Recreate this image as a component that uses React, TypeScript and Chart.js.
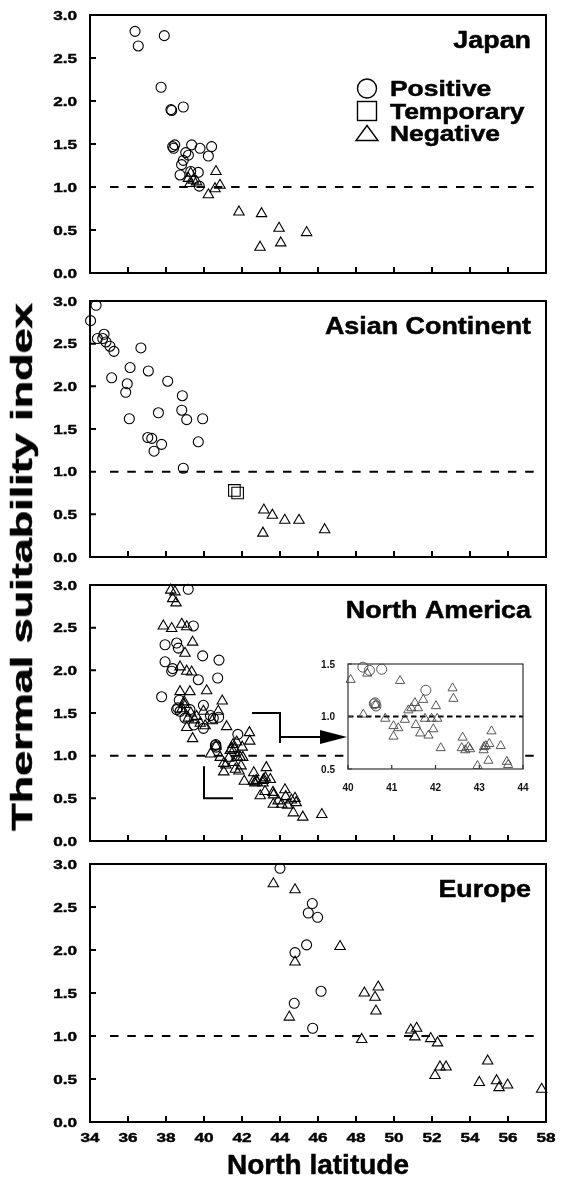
import React, { useEffect, useRef } from 'react';
import { Chart, registerables } from 'chart.js';

Chart.register(...registerables);

const FONT = '"Liberation Sans", Arial, Helvetica, sans-serif';

// ---------- axes ----------
const X_MIN = 34;
const X_MAX = 58;
const Y_MIN = 0;
const Y_MAX = 3;
const X_TICKS = [34, 36, 38, 40, 42, 44, 46, 48, 50, 52, 54, 56, 58];
const X_TICK_LABELS = ['34', '36', '38', '40', '42', '44', '46', '48', '50', '52', '54', '56', '58'];
const Y_TICKS = [0, 0.5, 1, 1.5, 2, 2.5, 3];
const Y_TICK_LABELS = ['0.0', '0.5', '1.0', '1.5', '2.0', '2.5', '3.0'];
const THRESHOLD = 1.0;
const X_TITLE = 'North latitude';
const Y_TITLE = 'Thermal suitability index';
const LEGEND_LABELS = ['Positive', 'Temporary', 'Negative'];
const PANEL_TITLES = ['Japan', 'Asian Continent', 'North America', 'Europe'];

// inset (North America zoom)
const INSET_X_MIN = 40;
const INSET_X_MAX = 44;
const INSET_Y_MIN = 0.5;
const INSET_Y_MAX = 1.5;
const INSET_X_TICKS = [40, 41, 42, 43, 44];
const INSET_X_LABELS = ['40', '41', '42', '43', '44'];
const INSET_Y_TICKS = [0.5, 1.0, 1.5];
const INSET_Y_LABELS = ['0.5', '1.0', '1.5'];

type Pt = [number, number];

// ---------- data: [latitude, index] ----------
const JAPAN_POSITIVE: Pt[] = [
  [36.37, 2.81], [36.54, 2.64], [37.91, 2.76], [37.74, 2.16], [38.26, 1.9], [38.3, 1.89],
  [38.91, 1.93], [38.35, 1.47], [38.46, 1.49], [38.4, 1.45], [39.35, 1.49], [39.79, 1.45],
  [40.4, 1.47], [40.23, 1.36], [39.18, 1.37], [39.04, 1.4], [38.91, 1.31], [38.82, 1.26],
  [38.74, 1.14], [39.3, 1.18], [39.7, 1.17], [39.75, 1.01],
];
const JAPAN_TEMPORARY: Pt[] = [];
const JAPAN_NEGATIVE: Pt[] = [
  [39.3, 1.16], [39.18, 1.1], [39.44, 1.08], [39.26, 1.04], [39.61, 1.06], [40.63, 1.18],
  [40.84, 1.02], [40.58, 0.98], [40.23, 0.91], [41.84, 0.71], [43.03, 0.69], [43.95, 0.52],
  [44.04, 0.35], [42.95, 0.3], [45.4, 0.47],
];

const ASIA_POSITIVE: Pt[] = [
  [34.03, 2.77], [34.32, 2.95], [34.39, 2.56], [34.74, 2.61], [34.67, 2.56], [34.84, 2.52],
  [35.05, 2.47], [35.26, 2.41], [35.14, 2.1], [36.68, 2.45], [36.11, 2.22], [35.96, 2.03],
  [35.88, 1.93], [36.07, 1.62], [37.07, 2.18], [38.09, 2.06], [37.6, 1.69], [37.04, 1.4],
  [37.25, 1.39], [37.37, 1.24], [37.77, 1.32], [38.86, 1.89], [38.83, 1.72], [39.09, 1.61],
  [39.93, 1.62], [39.7, 1.35], [38.91, 1.04],
];
const ASIA_TEMPORARY: Pt[] = [[41.6, 0.78], [41.77, 0.75]];
const ASIA_NEGATIVE: Pt[] = [
  [43.15, 0.55], [43.6, 0.49], [44.25, 0.43], [45.0, 0.43], [43.1, 0.28], [46.35, 0.32],
];

const NAMERICA_POSITIVE: Pt[] = [
  [39.17, 2.95], [39.44, 2.52], [37.95, 2.3], [38.56, 2.32], [38.65, 2.26], [39.93, 2.17],
  [40.79, 2.12], [37.95, 2.1], [38.35, 2.02], [38.3, 1.99], [40.72, 1.91], [39.7, 1.89],
  [37.77, 1.69], [38.7, 1.65], [38.56, 1.54], [38.74, 1.52], [38.62, 1.56], [39.26, 1.54],
  [39.0, 1.44], [39.47, 1.36], [39.97, 1.59], [39.97, 1.32],
  [40.34, 1.47], [40.49, 1.44], [40.77, 1.45], [40.6, 1.12], [40.64, 1.1], [40.62, 1.13],
  [41.78, 1.25],
];
const NAMERICA_TEMPORARY: Pt[] = [];
const NAMERICA_NEGATIVE: Pt[] = [
  [38.25, 2.94], [38.47, 2.92], [38.35, 2.84], [38.53, 2.79], [37.86, 2.52], [38.3, 2.49],
  [38.83, 2.54], [39.09, 2.51], [39.4, 2.33], [39.0, 2.2], [38.74, 2.04], [39.09, 1.99],
  [39.35, 1.98], [39.26, 1.75], [38.74, 1.75], [40.14, 1.76], [40.96, 1.64], [38.96, 1.63],
  [39.09, 1.33], [39.4, 1.2], [39.17, 1.44], [39.61, 1.46], [39.97, 1.52], [40.75, 1.52],
  [38.85, 1.55], [39.5, 1.42], [39.8, 1.38], [39.3, 1.5], [38.95, 1.6],
  [40.06, 1.35], [40.44, 1.41], [41.19, 1.34], [40.35, 1.02], [40.63, 1.11], [40.85, 0.98],
  [41.04, 0.91], [41.15, 0.89], [41.04, 0.81], [41.3, 0.97], [41.38, 1.06], [41.53, 1.13],
  [41.45, 1.08], [41.55, 0.92], [41.65, 0.84], [41.72, 1.16], [41.76, 0.98], [41.84, 0.82],
  [41.91, 0.98], [41.95, 0.88], [42.01, 1.1], [42.04, 0.98], [41.6, 1.08], [42.12, 0.7],
  [42.39, 1.27], [42.41, 1.17], [42.62, 0.8], [42.6, 0.7], [42.75, 0.71], [42.79, 0.69],
  [42.68, 0.68], [43.11, 0.71], [43.1, 0.68], [43.15, 0.72], [43.28, 0.86], [43.23, 0.74],
  [43.49, 0.72], [43.21, 0.58], [42.96, 0.53], [43.63, 0.57], [43.66, 0.54],
  [44.26, 0.6], [44.3, 0.52], [44.79, 0.5], [44.85, 0.45], [43.65, 0.43], [44.09, 0.43],
  [44.4, 0.42], [44.7, 0.33], [45.2, 0.28], [46.2, 0.31], [43.9, 0.47], [44.6, 0.48],
];

const EUROPE_POSITIVE: Pt[] = [
  [44.0, 2.95], [45.7, 2.54], [45.49, 2.43], [45.98, 2.38], [45.4, 2.06], [44.79, 1.97],
  [46.16, 1.52], [44.75, 1.38], [45.72, 1.09],
];
const EUROPE_TEMPORARY: Pt[] = [];
const EUROPE_NEGATIVE: Pt[] = [
  [43.65, 2.77], [44.79, 2.7], [44.79, 1.86], [44.49, 1.22], [47.16, 2.04], [48.44, 1.5],
  [49.17, 1.57], [49.0, 1.45], [49.05, 1.29], [48.3, 0.96], [50.88, 1.07], [51.19, 1.09],
  [51.1, 0.99], [51.93, 0.97], [52.29, 0.92], [52.42, 0.64], [52.74, 0.64], [52.16, 0.54],
  [54.93, 0.71], [54.49, 0.46], [55.4, 0.48], [55.53, 0.4], [55.98, 0.43], [57.77, 0.38],
];

// ---------- layout ----------
const PAGE_W = 561;
const PAGE_H = 1189;
const PAD_LEFT = 90;
const PAD_RIGHT = 15;
const PAD_TOP = 15;

interface PanelSpec {
  title: string;
  pos: Pt[];
  tmp: Pt[];
  neg: Pt[];
  plotTop: number;
  plotBottom: number;
  legend?: boolean;
  xLabels?: boolean;
  zoomMarks?: boolean;
}

const PANELS: PanelSpec[] = [
  { title: PANEL_TITLES[0], pos: JAPAN_POSITIVE, tmp: JAPAN_TEMPORARY, neg: JAPAN_NEGATIVE, plotTop: 15, plotBottom: 273, legend: true },
  { title: PANEL_TITLES[1], pos: ASIA_POSITIVE, tmp: ASIA_TEMPORARY, neg: ASIA_NEGATIVE, plotTop: 301, plotBottom: 557 },
  { title: PANEL_TITLES[2], pos: NAMERICA_POSITIVE, tmp: NAMERICA_TEMPORARY, neg: NAMERICA_NEGATIVE, plotTop: 585, plotBottom: 841, zoomMarks: true },
  { title: PANEL_TITLES[3], pos: EUROPE_POSITIVE, tmp: EUROPE_TEMPORARY, neg: EUROPE_NEGATIVE, plotTop: 864, plotBottom: 1122, xLabels: true },
];

const INSET_BOX = { left: 348, right: 523, top: 664, bottom: 769 };
const INSET_CANVAS = { left: 320, top: 650, width: 215, height: 150 };

function stretchText(
  ctx: CanvasRenderingContext2D,
  text: string,
  x: number,
  y: number,
  size: number,
  sx: number,
  align: CanvasTextAlign,
  color = '#000',
  stroke = 0
) {
  ctx.save();
  ctx.font = `bold ${size}px ${FONT}`;
  ctx.fillStyle = color;
  ctx.textAlign = align;
  ctx.textBaseline = 'alphabetic';
  ctx.translate(x, y);
  ctx.scale(sx, 1);
  ctx.fillText(text, 0, 0);
  if (stroke > 0) {
    ctx.strokeStyle = color;
    ctx.lineWidth = stroke;
    ctx.lineJoin = 'round';
    ctx.strokeText(text, 0, 0);
  }
  ctx.restore();
}

function dataset(pts: Pt[], style: string, radius: number, color = '#000', width = 1) {
  return {
    data: pts.map(([x, y]) => ({ x, y })),
    pointStyle: style,
    pointRadius: radius,
    pointHoverRadius: radius,
    pointBorderColor: color,
    pointBackgroundColor: 'rgba(0,0,0,0)',
    pointBorderWidth: width,
    showLine: false,
    clip: false,
  };
}

function panelPlugin(spec: PanelSpec) {
  return {
    id: 'panelFrame',
    beforeDatasetsDraw(chart: any) {
      const { ctx, chartArea: a } = chart;
      const xs = chart.scales.x;
      const ys = chart.scales.y;
      ctx.save();
      ctx.strokeStyle = '#000';
      ctx.lineWidth = 2;
      const ty = ys.getPixelForValue(THRESHOLD);
      ctx.setLineDash([8.5, 8.8]);
      ctx.beginPath();
      ctx.moveTo(a.left + 20, ty);
      ctx.lineTo(a.right - 6, ty);
      ctx.stroke();
      ctx.setLineDash([]);
      ctx.strokeRect(a.left, a.top, a.right - a.left, a.bottom - a.top);
      ctx.beginPath();
      Y_TICKS.forEach((v) => {
        const p = ys.getPixelForValue(v);
        ctx.moveTo(a.left, p);
        ctx.lineTo(a.left + 6, p);
      });
      X_TICKS.forEach((v) => {
        const p = xs.getPixelForValue(v);
        ctx.moveTo(p, a.bottom);
        ctx.lineTo(p, a.bottom - 6);
      });
      ctx.stroke();
      Y_TICKS.forEach((v, i) =>
        stretchText(ctx, Y_TICK_LABELS[i], a.left - 13, ys.getPixelForValue(v) + 4.6, 13, 1.32, 'right', '#000', 0.4)
      );
      if (spec.xLabels) {
        X_TICKS.forEach((v, i) =>
          stretchText(ctx, X_TICK_LABELS[i], xs.getPixelForValue(v), a.bottom + 19.6, 13, 1.32, 'center', '#000', 0.4)
        );
      }
      ctx.restore();
    },
    afterDatasetsDraw(chart: any) {
      const { ctx, chartArea: a } = chart;
      const xs = chart.scales.x;
      const ys = chart.scales.y;
      ctx.save();
      stretchText(ctx, spec.title, a.right - 15, a.top + 33, 24, 1.12, 'right', '#000', 0.5);
      if (spec.legend) {
        const cx = a.left + 277;
        const rows = [73.5, 96, 118.5];
        ctx.strokeStyle = '#000';
        ctx.lineWidth = 1.4;
        let cy = a.top + rows[0];
        ctx.beginPath();
        ctx.arc(cx, cy, 9.5, 0, Math.PI * 2);
        ctx.stroke();
        cy = a.top + rows[1];
        ctx.strokeRect(cx - 9.5, cy - 9.5, 19, 19);
        cy = a.top + rows[2];
        ctx.beginPath();
        ctx.moveTo(cx, cy - 8);
        ctx.lineTo(cx + 11, cy + 7);
        ctx.lineTo(cx - 11, cy + 7);
        ctx.closePath();
        ctx.stroke();
        LEGEND_LABELS.forEach((t, i) =>
          stretchText(ctx, t, a.left + 300, a.top + rows[i] + 7.9, 22, 1.2, 'left', '#000', 0.5)
        );
      }
      if (spec.zoomMarks) {
        const x40 = xs.getPixelForValue(INSET_X_MIN);
        const x44 = xs.getPixelForValue(INSET_X_MAX);
        const y05 = ys.getPixelForValue(INSET_Y_MIN);
        const y15 = ys.getPixelForValue(INSET_Y_MAX);
        ctx.strokeStyle = '#000';
        ctx.fillStyle = '#000';
        ctx.lineWidth = 2;
        ctx.beginPath();
        ctx.moveTo(x44 - 28, y15);
        ctx.lineTo(x44, y15);
        ctx.lineTo(x44, y15 + 30);
        ctx.moveTo(x40, y05 - 32);
        ctx.lineTo(x40, y05);
        ctx.lineTo(x40 + 29, y05);
        const ay = y15 + 24;
        const tipX = INSET_BOX.left - 1;
        ctx.moveTo(x44, ay);
        ctx.lineTo(tipX - 20, ay);
        ctx.stroke();
        ctx.beginPath();
        ctx.moveTo(tipX, ay);
        ctx.lineTo(tipX - 27, ay - 7);
        ctx.lineTo(tipX - 27, ay + 7);
        ctx.closePath();
        ctx.fill();
      }
      ctx.restore();
    },
  };
}

function Panel({ spec }: { spec: PanelSpec }) {
  const ref = useRef<HTMLCanvasElement>(null);
  const top = spec.plotTop - PAD_TOP;
  const bottomPad = spec.xLabels ? 32 : 15;
  const height = spec.plotBottom - spec.plotTop + PAD_TOP + bottomPad;
  useEffect(() => {
    const chart = new Chart(ref.current as HTMLCanvasElement, {
      type: 'scatter',
      data: {
        datasets: [
          dataset(spec.pos, 'circle', 5, '#000', 1.1),
          dataset(spec.tmp, 'rect', 8.2, '#000', 1.1),
          dataset(spec.neg, 'triangle', 6, '#000', 1.1),
        ] as any,
      },
      options: {
        responsive: false,
        animation: false,
        devicePixelRatio: 1,
        events: [],
        layout: { padding: { left: PAD_LEFT, right: PAD_RIGHT, top: PAD_TOP, bottom: bottomPad } },
        scales: {
          x: { type: 'linear', min: X_MIN, max: X_MAX, display: false },
          y: { type: 'linear', min: Y_MIN, max: Y_MAX, display: false },
        },
        plugins: { legend: { display: false }, tooltip: { enabled: false } },
      } as any,
      plugins: [panelPlugin(spec)],
    });
    return () => chart.destroy();
  }, []);
  return (
    <canvas
      ref={ref}
      width={PAGE_W}
      height={height}
      style={{ position: 'absolute', left: 0, top, width: PAGE_W, height }}
    />
  );
}

const insetPlugin = {
  id: 'insetFrame',
  beforeDatasetsDraw(chart: any) {
    const { ctx, chartArea: a } = chart;
    const xs = chart.scales.x;
    const ys = chart.scales.y;
    ctx.save();
    ctx.fillStyle = '#fff';
    ctx.fillRect(a.left, a.top, a.right - a.left, a.bottom - a.top);
    ctx.strokeStyle = '#000';
    ctx.lineWidth = 2;
    ctx.setLineDash([5.5, 3.5]);
    const ty = ys.getPixelForValue(THRESHOLD);
    ctx.beginPath();
    ctx.moveTo(a.left, ty);
    ctx.lineTo(a.right, ty);
    ctx.stroke();
    ctx.setLineDash([]);
    ctx.strokeStyle = '#333';
    ctx.lineWidth = 1.2;
    ctx.strokeRect(a.left, a.top, a.right - a.left, a.bottom - a.top);
    ctx.beginPath();
    INSET_Y_TICKS.forEach((v) => {
      const p = ys.getPixelForValue(v);
      ctx.moveTo(a.left, p);
      ctx.lineTo(a.left + 4, p);
    });
    INSET_X_TICKS.forEach((v) => {
      const p = xs.getPixelForValue(v);
      ctx.moveTo(p, a.bottom);
      ctx.lineTo(p, a.bottom - 4);
    });
    ctx.stroke();
    INSET_Y_TICKS.forEach((v, i) =>
      stretchText(ctx, INSET_Y_LABELS[i], a.left - 13, ys.getPixelForValue(v) + 3.6, 10, 1.0, 'right', '#111')
    );
    INSET_X_TICKS.forEach((v, i) =>
      stretchText(ctx, INSET_X_LABELS[i], xs.getPixelForValue(v), a.bottom + 21.6, 10, 1.0, 'center', '#111')
    );
    ctx.restore();
  },
};

function inInset(p: Pt) {
  return p[0] >= INSET_X_MIN - 0.01 && p[0] <= INSET_X_MAX + 0.01 && p[1] >= INSET_Y_MIN - 0.01 && p[1] <= INSET_Y_MAX + 0.01;
}

function Inset() {
  const ref = useRef<HTMLCanvasElement>(null);
  const c = INSET_CANVAS;
  useEffect(() => {
    const chart = new Chart(ref.current as HTMLCanvasElement, {
      type: 'scatter',
      data: {
        datasets: [
          dataset(NAMERICA_POSITIVE.filter(inInset), 'circle', 5, '#444', 0.9),
          dataset(NAMERICA_TEMPORARY.filter(inInset), 'rect', 8, '#444', 0.9),
          dataset(NAMERICA_NEGATIVE.filter(inInset), 'triangle', 5.3, '#444', 0.9),
        ] as any,
      },
      options: {
        responsive: false,
        animation: false,
        devicePixelRatio: 1,
        events: [],
        layout: {
          padding: {
            left: INSET_BOX.left - c.left,
            right: c.left + c.width - INSET_BOX.right,
            top: INSET_BOX.top - c.top,
            bottom: c.top + c.height - INSET_BOX.bottom,
          },
        },
        scales: {
          x: { type: 'linear', min: INSET_X_MIN, max: INSET_X_MAX, display: false },
          y: { type: 'linear', min: INSET_Y_MIN, max: INSET_Y_MAX, display: false },
        },
        plugins: { legend: { display: false }, tooltip: { enabled: false } },
      } as any,
      plugins: [insetPlugin],
    });
    return () => chart.destroy();
  }, []);
  return (
    <canvas
      ref={ref}
      width={c.width}
      height={c.height}
      style={{ position: 'absolute', left: c.left, top: c.top, width: c.width, height: c.height }}
    />
  );
}

export default function App() {
  return (
    <div
      style={{
        position: 'absolute',
        left: 0,
        top: 0,
        width: PAGE_W,
        height: PAGE_H,
        background: '#fff',
        overflow: 'hidden',
      }}
    >
      {PANELS.map((p) => (
        <Panel key={p.title} spec={p} />
      ))}
      <Inset />
      <div
        style={{
          position: 'absolute',
          left: 22,
          top: 567,
          transform: 'translate(-50%, -50%) rotate(-90deg) scaleX(1.5)',
          font: `bold 30px ${FONT}`,
          lineHeight: 1,
          whiteSpace: 'nowrap',
          color: '#000',
          WebkitTextStroke: '0.6px #000',
        }}
      >
        {Y_TITLE}
      </div>
      <div
        style={{
          position: 'absolute',
          left: PAD_LEFT,
          width: PAGE_W - PAD_LEFT - PAD_RIGHT,
          top: 1151,
          textAlign: 'center',
          font: `bold 28px ${FONT}`,
          lineHeight: 1,
          whiteSpace: 'nowrap',
          color: '#000',
          WebkitTextStroke: '0.5px #000',
        }}
      >
        {X_TITLE}
      </div>
    </div>
  );
}
